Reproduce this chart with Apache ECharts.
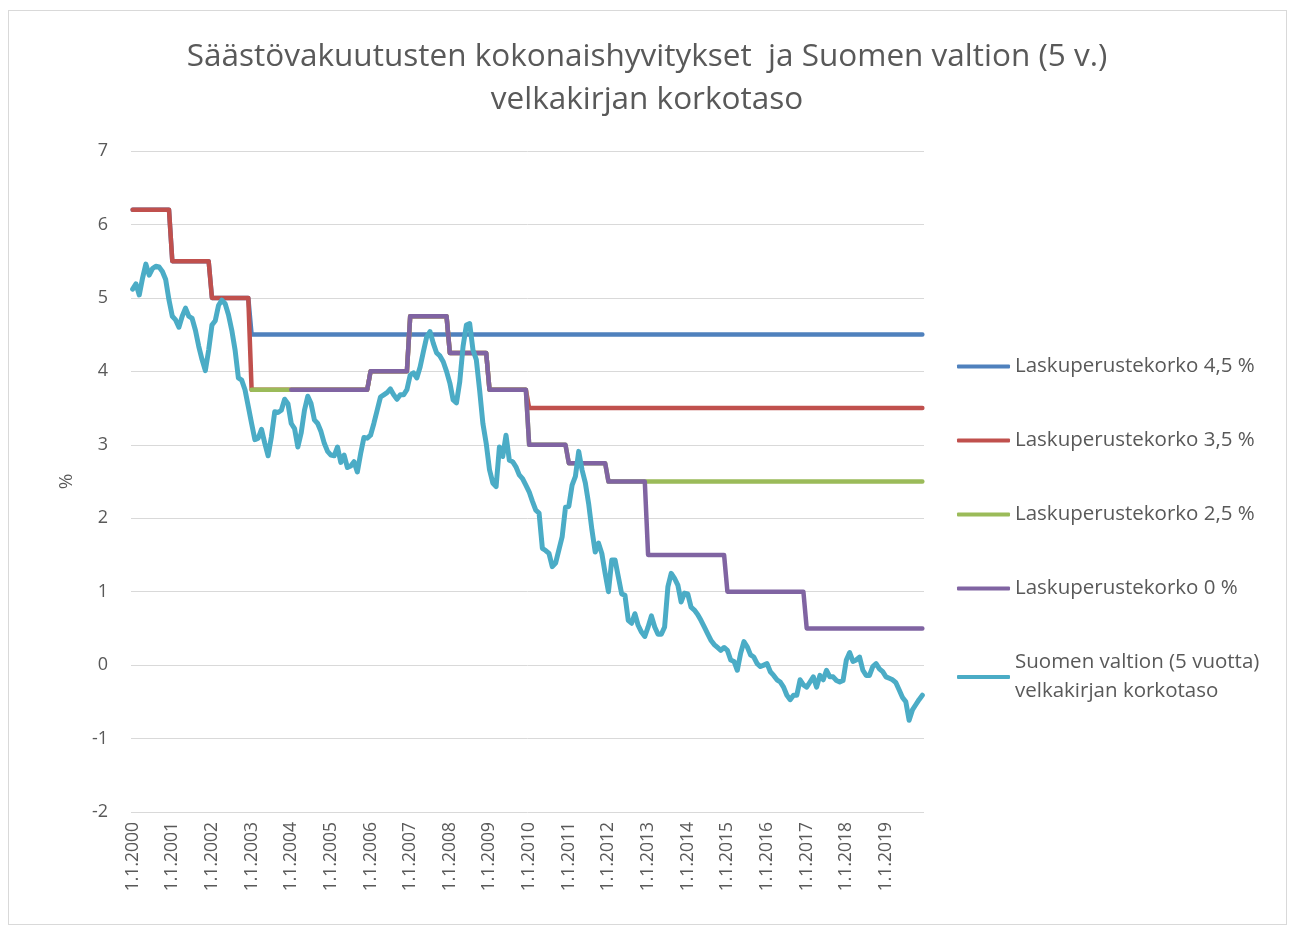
<!DOCTYPE html>
<html>
<head>
<meta charset="utf-8">
<script src="https://cdn.jsdelivr.net/npm/echarts@6/dist/echarts.min.js"></script>
<style>
    html, body { margin: 0; padding: 0; background: #fff; }
    #frame { position: absolute; left: 8px; top: 10px; width: 1279px; height: 915px; border: 1px solid #d9d9d9; box-sizing: border-box; }
    #chart { position: absolute; left: 0; top: 0; width: 1294px; height: 927px; }
</style>
</head>
<body>
<div id="frame"></div>
<div id="chart"></div>
<script>
// Years on the axis (monthly categories, label on each January)
const years = [2000, 2001, 2002, 2003, 2004, 2005, 2006, 2007, 2008, 2009,
               2010, 2011, 2012, 2013, 2014, 2015, 2016, 2017, 2018, 2019];

// Total return per year for each technical interest class (%)
const rate45 = [6.2, 5.5, 5.0, 4.5, 4.5, 4.5, 4.5, 4.5, 4.5, 4.5,
                4.5, 4.5, 4.5, 4.5, 4.5, 4.5, 4.5, 4.5, 4.5, 4.5];
const rate35 = [6.2, 5.5, 5.0, 3.75, 3.75, 3.75, 4.0, 4.75, 4.25, 3.75,
                3.5, 3.5, 3.5, 3.5, 3.5, 3.5, 3.5, 3.5, 3.5, 3.5];
const rate25 = [null, null, null, 3.75, 3.75, 3.75, 4.0, 4.75, 4.25, 3.75,
                3.0, 2.75, 2.5, 2.5, 2.5, 2.5, 2.5, 2.5, 2.5, 2.5];
const rate0 = [null, null, null, null, 3.75, 3.75, 4.0, 4.75, 4.25, 3.75,
               3.0, 2.75, 2.5, 1.5, 1.5, 1.0, 1.0, 0.5, 0.5, 0.5];

// Finnish 5-year government bond yield, monthly (%)
const bond5y = [
    5.12, 5.19, 5.04, 5.27, 5.46, 5.31, 5.40, 5.43, 5.42, 5.36, 5.25, 4.97,
    4.75, 4.70, 4.60, 4.75, 4.86, 4.75, 4.72, 4.56, 4.34, 4.16, 4.01, 4.29,
    4.63, 4.69, 4.90, 4.97, 4.92, 4.77, 4.56, 4.29, 3.91, 3.88, 3.75, 3.52,
    3.29, 3.07, 3.09, 3.21, 3.02, 2.85, 3.11, 3.45, 3.44, 3.47, 3.62, 3.56,
    3.29, 3.22, 2.97, 3.16, 3.47, 3.66, 3.56, 3.34, 3.29, 3.18, 3.02, 2.91,
    2.86, 2.85, 2.97, 2.76, 2.86, 2.69, 2.71, 2.77, 2.63, 2.88, 3.10, 3.09,
    3.13, 3.29, 3.47, 3.65, 3.68, 3.71, 3.76, 3.68, 3.62, 3.68, 3.68, 3.75,
    3.95, 3.98, 3.91, 4.06, 4.27, 4.47, 4.54, 4.38, 4.25, 4.21, 4.13, 4.00,
    3.84, 3.61, 3.57, 3.86, 4.34, 4.63, 4.65, 4.29, 4.16, 3.75, 3.29, 3.02,
    2.66, 2.48, 2.43, 2.97, 2.84, 3.13, 2.79, 2.77, 2.70, 2.59, 2.54, 2.45,
    2.36, 2.23, 2.11, 2.07, 1.59, 1.56, 1.52, 1.34, 1.39, 1.57, 1.75, 2.15,
    2.16, 2.45, 2.57, 2.91, 2.66, 2.48, 2.20, 1.84, 1.54, 1.66, 1.52, 1.25,
    1.00, 1.43, 1.43, 1.20, 0.97, 0.95, 0.61, 0.57, 0.70, 0.54, 0.45, 0.39,
    0.52, 0.67, 0.52, 0.42, 0.42, 0.52, 1.07, 1.25, 1.18, 1.09, 0.86, 0.98,
    0.97, 0.79, 0.75, 0.69, 0.61, 0.52, 0.43, 0.34, 0.28, 0.24, 0.20, 0.24,
    0.20, 0.07, 0.05, -0.07, 0.16, 0.32, 0.25, 0.14, 0.11, 0.02, -0.02, 0.00,
    0.02, -0.09, -0.14, -0.20, -0.23, -0.30, -0.41, -0.47, -0.41, -0.41, -0.20, -0.27,
    -0.30, -0.23, -0.16, -0.30, -0.14, -0.20, -0.07, -0.16, -0.16, -0.21, -0.23, -0.21,
    0.07, 0.17, 0.05, 0.07, 0.11, -0.07, -0.14, -0.14, -0.02, 0.02, -0.05, -0.09,
    -0.16, -0.18, -0.20, -0.24, -0.34, -0.44, -0.50, -0.75, -0.61, -0.54, -0.47, -0.41
];

const seriesNames = [
    'Laskuperustekorko 4,5 %',
    'Laskuperustekorko 3,5 %',
    'Laskuperustekorko 2,5 %',
    'Laskuperustekorko 0 %',
    'Suomen valtion (5 vuotta)\nvelkakirjan korkotaso'
];
const colors = ['#4F81BD', '#C0504D', '#9BBB59', '#8064A2', '#4BACC6'];

// monthly categories "1.M.YYYY"
const months = [];
years.forEach(y => {
    for (let m = 1; m <= 12; m++) months.push(`1.${m}.${y}`);
});
// the yearly rate holds for all twelve months of its year
const perMonth = yearly => yearly.flatMap(v => Array(12).fill(v));

const font = 'Open Sans';
const grey = '#595959';

const chart = echarts.init(document.getElementById('chart'));

const lineSeries = (name, data, color, width) => ({
    name: name,
    type: 'line',
    data: data,
    showSymbol: false,
    color: color,
    lineStyle: { width: width, color: color, cap: 'round', join: 'round' },
    emphasis: { disabled: true }
});

const option = {
    animation: false,
    backgroundColor: 'transparent',
    title: {
        text: 'Säästövakuutusten kokonaishyvitykset  ja Suomen valtion (5 v.)\nvelkakirjan korkotaso',
        left: 'center',
        top: 31,
        textStyle: {
            fontFamily: font,
            fontSize: 31.5,
            fontWeight: 'normal',
            color: grey,
            lineHeight: 43,
            align: 'center'
        }
    },
    legend: {
        orient: 'vertical',
        left: 957,
        top: 352,
        padding: 0,
        itemWidth: 53,
        itemHeight: 4,
        itemGap: 45,
        icon: 'roundRect',
        data: seriesNames,
        textStyle: { fontFamily: font, fontSize: 20.5, color: grey, lineHeight: 29 }
    },
    grid: { left: 131, right: 370, top: 151, bottom: 115 },
    xAxis: {
        type: 'category',
        data: months,
        boundaryGap: true,
        axisLine: { show: false },
        axisTick: { show: false },
        axisLabel: {
            interval: 11,
            rotate: 90,
            margin: 10,
            fontFamily: font,
            fontSize: 17.5,
            color: grey
        }
    },
    yAxis: {
        type: 'value',
        min: -2,
        max: 7,
        interval: 1,
        name: '%',
        nameLocation: 'middle',
        nameGap: 55,
        nameRotate: 90,
        nameTextStyle: { fontFamily: font, fontSize: 19, color: grey },
        axisLine: { show: false },
        axisTick: { show: false },
        axisLabel: { margin: 23, fontFamily: font, fontSize: 18, color: grey },
        splitLine: { lineStyle: { color: '#D9D9D9', width: 1 } }
    },
    series: [
        lineSeries(seriesNames[0], perMonth(rate45), colors[0], 4.5),
        lineSeries(seriesNames[1], perMonth(rate35), colors[1], 4.5),
        lineSeries(seriesNames[2], perMonth(rate25), colors[2], 4.5),
        lineSeries(seriesNames[3], perMonth(rate0), colors[3], 4.5),
        lineSeries(seriesNames[4], bond5y, colors[4], 5)
    ]
};

chart.setOption(option);
window.addEventListener('resize', () => chart.resize());
</script>
</body>
</html>
